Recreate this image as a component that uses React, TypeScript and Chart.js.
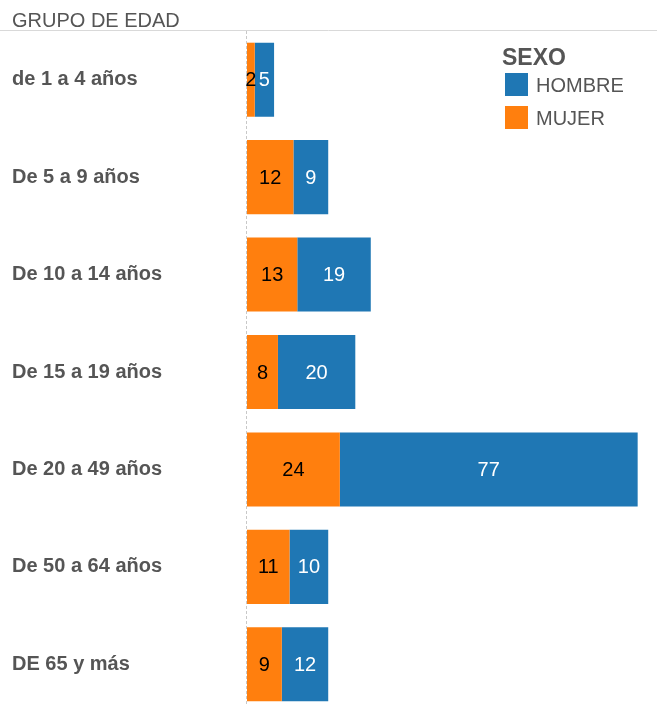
import React, { useEffect, useRef } from "react";
import { Chart, registerables } from "chart.js";

Chart.register(...registerables);

const categories = [
  "de 1 a 4 años",
  "De 5 a 9 años",
  "De 10 a 14 años",
  "De 15 a 19 años",
  "De 20 a 49 años",
  "De 50 a 64 años",
  "DE 65 y más",
];
const mujer = [2, 12, 13, 8, 24, 11, 9];
const hombre = [5, 9, 19, 20, 77, 10, 12];
const headerTitle = "GRUPO DE EDAD";
const legendTitle = "SEXO";
const legendOrder = ["HOMBRE", "MUJER"];

const ORANGE = "#ff7f0e";
const BLUE = "#1f77b4";
const GRAY = "#555555";
const FONT = "'Liberation Sans', Arial, sans-serif";

export default function App() {
  const ref = useRef<HTMLCanvasElement | null>(null);

  useEffect(() => {
    const canvas = ref.current;
    if (!canvas) return;

    const decor = {
      id: "decor",
      beforeDatasetsDraw(chart: any) {
        const { ctx, chartArea } = chart;
        ctx.save();
        // header
        ctx.font = `20px ${FONT}`;
        ctx.fillStyle = GRAY;
        ctx.textAlign = "left";
        ctx.textBaseline = "alphabetic";
        ctx.fillText(headerTitle, 12, 26.5);
        ctx.strokeStyle = "#d9d9d9";
        ctx.lineWidth = 1;
        ctx.beginPath();
        ctx.moveTo(0, 30.5);
        ctx.lineTo(chart.width, 30.5);
        ctx.stroke();
        // zero line
        const x0 = Math.round(chart.scales.x.getPixelForValue(0)) - 0.5;
        ctx.strokeStyle = "#c8c8c8";
        ctx.setLineDash([3, 2]);
        ctx.beginPath();
        ctx.moveTo(x0, chartArea.top);
        ctx.lineTo(x0, chart.height);
        ctx.stroke();
        ctx.restore();
      },
      afterDatasetsDraw(chart: any) {
        const { ctx } = chart;
        ctx.save();
        ctx.font = `20px ${FONT}`;
        ctx.textAlign = "center";
        ctx.textBaseline = "middle";
        chart.data.datasets.forEach((ds: any, di: number) => {
          const meta = chart.getDatasetMeta(di);
          ctx.fillStyle = di === 0 ? "#000000" : "#ffffff";
          meta.data.forEach((el: any, i: number) => {
            const cx = (el.x + el.base) / 2;
            ctx.fillText(String(ds.data[i]), cx, el.y + 1);
          });
        });
        // legend
        ctx.textAlign = "left";
        ctx.textBaseline = "alphabetic";
        ctx.fillStyle = GRAY;
        ctx.font = `bold 23px ${FONT}`;
        ctx.fillText(legendTitle, 502, 65);
        ctx.font = `20px ${FONT}`;
        legendOrder.forEach((name, k) => {
          const ds = chart.data.datasets.find((d: any) => d.label === name);
          const y = 73 + k * 33;
          ctx.fillStyle = ds.backgroundColor;
          ctx.fillRect(505, y, 23, 23);
          ctx.fillStyle = GRAY;
          ctx.fillText(name, 536, y + 19);
        });
        ctx.restore();
      },
    };

    const chart = new Chart(canvas, {
      type: "bar",
      data: {
        labels: categories,
        datasets: [
          {
            label: "MUJER",
            data: mujer,
            backgroundColor: ORANGE,
            categoryPercentage: 1,
            barPercentage: 0.76,
          },
          {
            label: "HOMBRE",
            data: hombre,
            backgroundColor: BLUE,
            categoryPercentage: 1,
            barPercentage: 0.76,
          },
        ],
      },
      options: {
        indexAxis: "y",
        responsive: false,
        animation: false,
        devicePixelRatio: 1,
        layout: { padding: { left: 12, top: 31, right: 0, bottom: 0 } },
        plugins: {
          legend: { display: false },
          tooltip: { enabled: false },
        },
        scales: {
          x: {
            stacked: true,
            display: false,
            min: 0,
            max: 106,
          },
          y: {
            stacked: true,
            grid: { display: false },
            border: { display: false },
            ticks: {
              crossAlign: "far",
              color: GRAY,
              font: { family: FONT, size: 20, weight: "bold" },
            },
            afterFit(scale: any) {
              scale.width = 235;
              scale.paddingTop = 0;
              scale.paddingBottom = 0;
            },
          },
        },
      },
      plugins: [decor],
    });
    return () => chart.destroy();
  }, []);

  return (
    <div
      style={{
        position: "fixed",
        top: 0,
        left: 0,
        width: 657,
        height: 705,
        overflow: "hidden",
        background: "#fff",
      }}
    >
      <canvas ref={ref} width={657} height={713} style={{ display: "block" }} />
    </div>
  );
}
